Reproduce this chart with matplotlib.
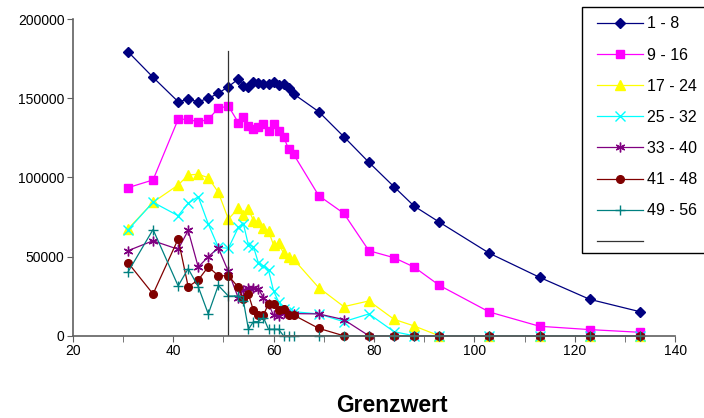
import matplotlib
matplotlib.use("Agg")
import matplotlib.pyplot as plt
import matplotlib.patches as patches

plt.rcParams['font.family'] = ['Liberation Sans', 'DejaVu Sans']

# Grenzwert (x) shared by all series
grenzwert = [31, 36, 41, 43, 45, 47, 49, 51, 53, 54, 55, 56, 57, 58, 59, 60,
             61, 62, 63, 64, 69, 74, 79, 84, 88, 93, 103, 113, 123, 133]

s_1_8 = [179400, 163200, 147800, 149300, 147800, 149900, 153100, 157300,
         162100, 157700, 157300, 160000, 159400, 159000, 159000, 160000,
         158300, 159000, 156300, 152700, 141500, 125700, 109500, 94100,
         81900, 71800, 52100, 36900, 23000, 15200]
s_9_16 = [93500, 98400, 136700, 136700, 135000, 136700, 143600, 145100,
          134500, 137900, 132500, 130400, 132000, 133500, 129300, 133500,
          129300, 125700, 117900, 114600, 88500, 77300, 53700, 49300,
          43400, 31900, 15000, 6000, 3900, 2200]
s_17_24 = [67400, 84300, 95200, 101500, 102000, 99800, 90600, 73700,
           80500, 76300, 80000, 72700, 71700, 67900, 66200, 57300,
           58400, 52100, 49600, 48300, 30400, 18400, 22000, 10400,
           6200, 0, 0, 0, 0, 0]
s_25_32 = [66800, 84300, 75800, 83700, 87800, 70600, 55900, 55200,
           68500, 70600, 57300, 56300, 45800, 44100, 41500, 28300,
           21500, 16700, 15500, 15200, 13800, 8900, 13800, 2600,
           0, 0, 0, 0, 0, 0]
s_33_40 = [53700, 60000, 54600, 66500, 43400, 49900, 55500, 40600,
           23700, 29000, 30000, 30000, 29400, 24000, 20000, 13000,
           12500, 14500, 14000, 14000, 13800, 10200, 0, 0,
           0, 0, 0, 0, 0, 0]
s_41_48 = [46200, 26400, 61100, 31000, 35200, 43600, 37900, 37900,
           30600, 23000, 26200, 16000, 13100, 13100, 20300, 20300,
           16300, 16600, 13100, 13100, 4700, 0, 0, 0,
           0, 0, 0, 0, 0, 0]
s_49_56 = [40200, 67100, 31500, 42400, 31000, 13800, 31800, 25100,
           25100, 22000, 4100, 8900, 8900, 11500, 4100, 4100,
           4100, 0, 0, 0, 0, 0, 0, 0,
           0, 0, 0, 0, 0, 0]

series = [s_1_8, s_9_16, s_17_24, s_25_32, s_33_40, s_41_48, s_49_56]
labels = ['1 - 8', '9 - 16', '17 - 24', '25 - 32', '33 - 40', '41 - 48', '49 - 56']

# vertical marker line
limit_x = [51, 51]
limit_y = [0, 180000]

colors = ['#000080', '#FF00FF', '#FFFF00', '#00FFFF', '#800080', '#800000', '#008080']
markers = ['D', 's', '^', 'x', (6, 2, 0), 'o', '+']
msizes = [5, 5.5, 6.5, 6.5, 7, 5.5, 7]

W, H = 704, 418
fig = plt.figure(figsize=(7.04, 4.18), dpi=100)
ax = fig.add_axes([0.1033, 0.1967, 0.8557, 0.7578])

handles = []
for ys, col, mk, ms in zip(series, colors, markers, msizes):
    h, = ax.plot(grenzwert, ys, color=col, marker=mk, markersize=ms,
                 markerfacecolor=col, markeredgecolor=col, linewidth=0.9,
                 markeredgewidth=1.0, clip_on=False)
    handles.append(h)

h, = ax.plot(limit_x, limit_y, color='#333333', linewidth=0.9)
handles.append(h)

ax.set_xlim(20, 140)
ax.set_ylim(0, 200000)
ax.set_xticks([20, 40, 60, 80, 100, 120, 140])
ax.set_xticks([30, 50, 70, 90, 110, 130], minor=True)
ax.set_yticks([0, 50000, 100000, 150000, 200000])
ax.set_yticklabels(['0', '50000', '100000', '150000', '200000'])

for side in ['top', 'right']:
    ax.spines[side].set_visible(False)
for side in ['left', 'bottom']:
    ax.spines[side].set_color('#606060')
    ax.spines[side].set_linewidth(1.2)

ax.tick_params(axis='both', which='both', direction='out', length=4,
               color='#606060', labelsize=10, pad=2)

fig.text(392 / W, 1 - 406 / H, 'Grenzwert', ha='center', va='center',
         fontsize=16.5, fontweight='bold')

# Legend box (runs off the right edge like the original)
box = patches.Rectangle((581.7 / W, 1 - 253.3 / H), 140 / W, 246 / H,
                        transform=fig.transFigure, facecolor='white',
                        edgecolor='black', linewidth=1.0, zorder=2)
fig.add_artist(box)

leg = fig.legend(handles, labels + [''], loc='upper left',
                 bbox_to_anchor=(597.3 / W, 1 - 16.5 / H),
                 borderaxespad=0, fontsize=11.5, frameon=False,
                 handlelength=2.85, handletextpad=0.25,
                 labelspacing=1.01, borderpad=0)
leg.set_zorder(3)

fig.savefig('out.png', dpi=100)
